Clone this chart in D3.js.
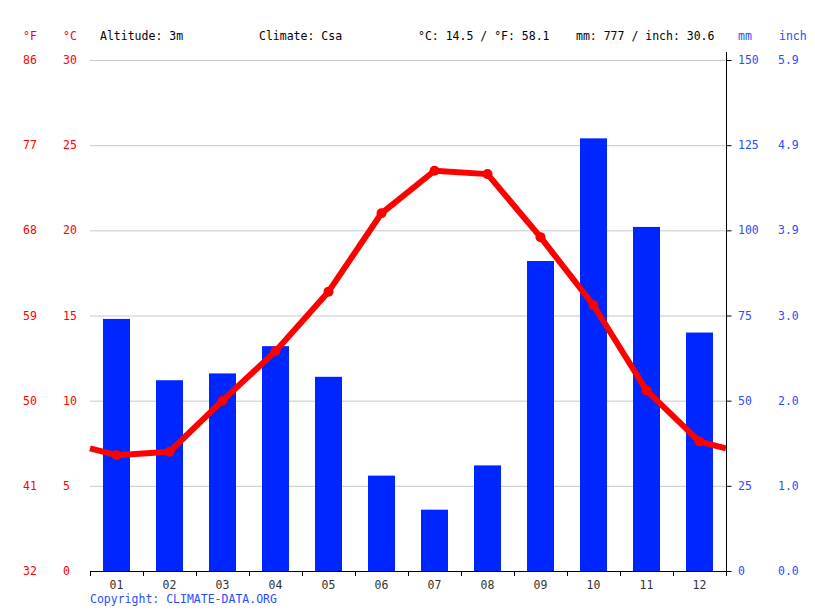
<!DOCTYPE html>
<html><head><meta charset="utf-8">
<script src="https://cdn.jsdelivr.net/npm/d3@7"></script>
<style>body{margin:0;background:#fff}svg{display:block}text{font-family:"DejaVu Sans Mono",monospace;font-size:11.5px}</style>
</head><body><svg id="c" width="815" height="611"></svg>
<script>
const months = ["01","02","03","04","05","06","07","08","09","10","11","12"];
const precipMm = [74, 56, 58, 66, 57, 28, 18, 31, 91, 127, 101, 70];
const tempC = [6.8, 7.0, 10.0, 12.9, 16.4, 21.0, 23.5, 23.3, 19.6, 15.6, 10.6, 7.6];
const cTicks = [0,5,10,15,20,25,30];
const fTicks = [32,41,50,59,68,77,86];
const mmTicks = [0,25,50,75,100,125,150];
const inchTicks = ["0.0","1.0","2.0","3.0","3.9","4.9","5.9"];

const svg = d3.select("#c");
const X0=90, X1=726, Y0=571, Y1=60;
const x = d3.scaleBand().domain(months).range([X0,X1]).paddingInner(0).paddingOuter(0);
const yC = d3.scaleLinear().domain([0,30]).range([Y0,Y1]);
const yMm = d3.scaleLinear().domain([0,150]).range([Y0,Y1]);
const RED="#ff0000", BLUE="#0026ff", TBLUE="#2a4dff";

// grid
svg.append("g").selectAll("line").data(cTicks.slice(1)).join("line")
  .attr("x1",X0).attr("x2",X1).attr("y1",d=>yC(d)+0.5).attr("y2",d=>yC(d)+0.5)
  .attr("stroke","#c8c8c8").attr("stroke-width",1);

// bars
const bw = 27;
svg.append("g").selectAll("rect").data(months).join("rect")
  .attr("x",(d)=>x(d)+x.bandwidth()/2-bw/2).attr("width",bw)
  .attr("y",(d,i)=>yMm(precipMm[i])).attr("height",(d,i)=>Y0-yMm(precipMm[i]))
  .attr("fill",BLUE);

// temperature line extended to edges
const edge = (tempC[0]+tempC[11])/2;
const pts = [[X0,edge]].concat(months.map((m,i)=>[x(m)+x.bandwidth()/2,tempC[i]])).concat([[X1,edge]]);
svg.append("path").datum(pts)
  .attr("d",d3.line().x(d=>d[0]).y(d=>yC(d[1])))
  .attr("fill","none").attr("stroke",RED).attr("stroke-width",6).attr("stroke-linejoin","round");
svg.append("g").selectAll("circle").data(months).join("circle")
  .attr("cx",m=>x(m)+x.bandwidth()/2).attr("cy",(m,i)=>yC(tempC[i])).attr("r",5).attr("fill",RED);

// bottom axis
const bx = d3.axisBottom(x).tickSize(0).tickPadding(9);
const gb = svg.append("g").attr("transform",`translate(0,${Y0+0.5})`).call(bx);
gb.select(".domain").attr("stroke","#000").attr("d",`M${X0},0H${X1}`);
gb.selectAll("text").attr("fill","#333").style("font-family","DejaVu Sans Mono").style("font-size","11.5px");
svg.append("g").selectAll("line").data(d3.range(13)).join("line")
  .attr("x1",i=>Math.round(X0+i*x.step())+0.5).attr("x2",i=>Math.round(X0+i*x.step())+0.5)
  .attr("y1",Y0).attr("y2",Y0+5).attr("stroke","#000");

// right axis
const ry = d3.axisRight(yMm).tickValues(mmTicks).tickSize(5).tickFormat(()=> "");
const gr = svg.append("g").attr("transform",`translate(${X1+0.5},0)`).call(ry);
gr.select(".domain").attr("d",`M0,${Y1-8}V${Y0+5}`).attr("stroke","#000");
gr.selectAll(".tick line").attr("stroke","#000");

// tick labels
const lab = (g, data, xp, yfun, fill, fmt) => g.selectAll("text").data(data).join("text")
  .attr("x",xp).attr("y",(d,i)=>yfun(i)+4).attr("fill",fill).text(fmt);
const L = svg.append("g");
lab(L.append("g"), fTicks, 23, i=>yC(cTicks[i]), RED, d=>d);
lab(L.append("g"), cTicks, 63, i=>yC(cTicks[i]), RED, d=>d);
lab(L.append("g"), mmTicks, 738, i=>yMm(mmTicks[i]), TBLUE, d=>d);
lab(L.append("g"), inchTicks, 778, i=>yMm(mmTicks[i]), TBLUE, d=>d);

// header
const hdr = [["°F",23,RED],["°C",63,RED],["Altitude: 3m",100,"#000"],["Climate: Csa",259,"#000"],
  ["°C: 14.5 / °F: 58.1",418,"#000"],["mm: 777 / inch: 30.6",576,"#000"],["mm",738,TBLUE],["inch",779,TBLUE]];
svg.append("g").selectAll("text").data(hdr).join("text")
  .attr("x",d=>d[1]).attr("y",40).attr("fill",d=>d[2]).text(d=>d[0]);

svg.append("text").attr("x",90).attr("y",603).attr("fill",TBLUE).text("Copyright: CLIMATE-DATA.ORG");
</script></body></html>
